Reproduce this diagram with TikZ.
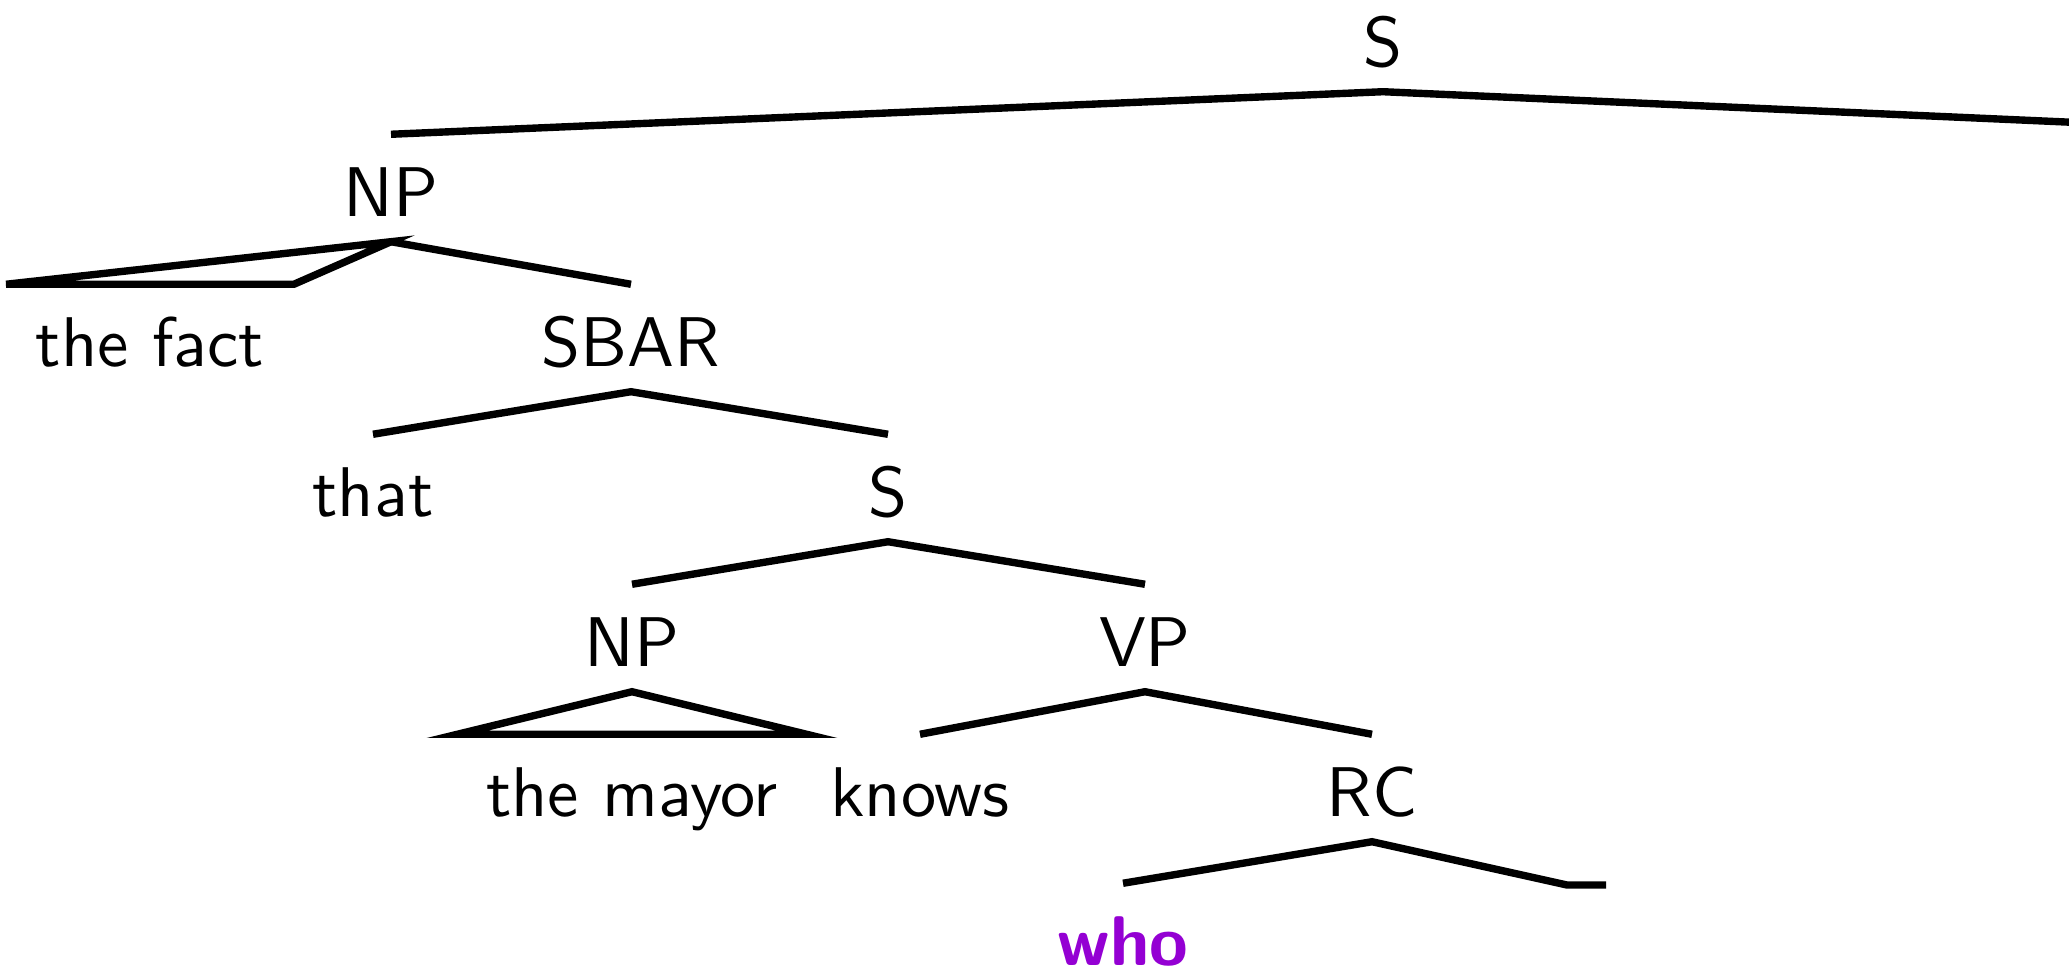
\documentclass[tikz,border=0pt]{standalone}
\usepackage{fontspec}
\setsansfont{lmsans10-regular.otf}[BoldFont=lmsans10-bold.otf]
\definecolor{whopurple}{HTML}{9400D3}

\begin{document}
\begin{tikzpicture}[x=0.01cm, y=-0.01cm, line width=2.1pt,
  cat/.style={inner sep=0pt, text height=0.78cm, text depth=0.22cm, anchor=base,
    font=\sffamily\fontsize{20}{22}\selectfont}]
  \clip (0,0) rectangle (2069,972);
  % 标签：每层基线相隔 150
  \node[cat] (S) at (1383,66) {S};
  \node[cat] (NPa) at (391,216) {NP};
  \node[cat] (fact) at (150,366) {the fact};
  \node[cat] (SBAR) at (631,366) {SBAR};
  \node[cat] (that) at (373,516) {that};
  \node[cat] (Sb) at (888,516) {S};
  \node[cat] (NPb) at (632,666) {NP};
  \node[cat] (VP) at (1145,666) {VP};
  \node[cat] (mayor) at (632,816) {the mayor};
  \node[cat] (knows) at (920,816) {knows};
  \node[cat] (RC) at (1372,816) {RC};
  \node[cat, text depth=0pt, text=whopurple, font=\sffamily\bfseries\fontsize{20}{22}\selectfont] (who) at (1123,965) {who};
  \coordinate (Sr) at (2449,139);
  \coordinate (RCr) at (1567,885);

  % 连线
  \draw (NPa.north) -- (S.south) -- (Sr);
  \draw (NPa.south) -- ([xshift=-0.26cm]fact.north west) -- ([xshift=0.26cm]fact.north east) -- cycle;
  \draw (NPa.south) -- (SBAR.north);
  \draw (that.north) -- (SBAR.south) -- (Sb.north);
  \draw (NPb.north) -- (Sb.south) -- (VP.north);
  \draw (NPb.south) -- ([xshift=-0.25cm]mayor.north west) -- ([xshift=0.25cm]mayor.north east) -- cycle;
  \draw (knows.north) -- (VP.south) -- (RC.north);
  \draw (who.north) -- (RC.south) -- (RCr) -- ++(39,0);
\end{tikzpicture}
\end{document}
